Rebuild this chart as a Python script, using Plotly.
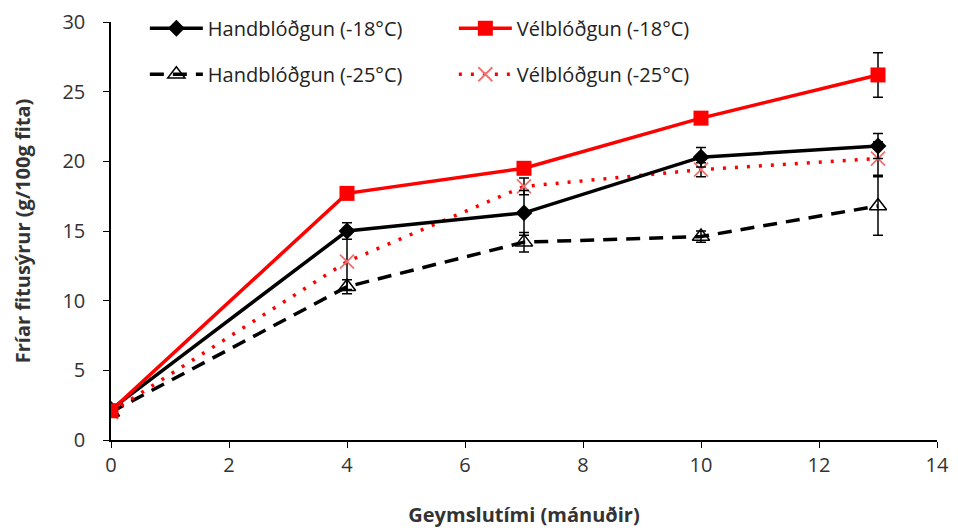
import plotly.graph_objects as go

months = [0, 4, 7, 10, 13]

hand18 = [2.2, 15.0, 16.3, 20.3, 21.1]
hand18_err = [0.3, 0.6, 1.6, 0.7, 0.9]
vel18 = [2.1, 17.7, 19.5, 23.1, 26.2]
vel18_err = [0.3, 0.4, 0.4, 0.4, 1.6]
hand25 = [2.0, 11.0, 14.2, 14.6, 16.8]
hand25_err = [0.3, 0.5, 0.7, 0.4, 2.1]
vel25 = [2.0, 12.8, 18.2, 19.4, 20.2]
vel25_err = [0.3, 2.0, 0.6, 0.5, 1.2]

names = ["Handblóðgun (-18°C)", "Vélblóðgun (-18°C)",
         "Handblóðgun (-25°C)", "Vélblóðgun (-25°C)"]

font_family = "'Open Sans', Lato, sans-serif"

def err(e):
    return dict(type="data", array=e, visible=True, color="black",
                thickness=1.5, width=5)

fig = go.Figure()
fig.add_trace(go.Scatter(
    x=months, y=hand25, name=names[2], legend="legend2",
    mode="lines+markers", error_y=err(hand25_err),
    line=dict(color="black", width=3.5, dash="14px,9px"),
    marker=dict(symbol="triangle-up-open", size=15, color="black",
                line=dict(width=1.5, color="black"))))
fig.add_trace(go.Scatter(
    x=months, y=vel25, name=names[3], legend="legend2",
    mode="lines+markers", error_y=err(vel25_err),
    line=dict(color="#ff0000", width=3.5, dash="3px,9px"),
    marker=dict(symbol="x-thin-open", size=14, color="#f07070",
                line=dict(width=1.8, color="#f07070"))))
fig.add_trace(go.Scatter(
    x=months, y=hand18, name=names[0], legend="legend",
    mode="lines+markers", error_y=err(hand18_err),
    line=dict(color="black", width=3.5),
    marker=dict(symbol="diamond", size=13, color="black")))
fig.add_trace(go.Scatter(
    x=months, y=vel18, name=names[1], legend="legend",
    mode="lines+markers", error_y=err(vel18_err),
    line=dict(color="#ff0000", width=3.5),
    marker=dict(symbol="square", size=15, color="#ff0000")))

legend_common = dict(orientation="h", bgcolor="rgba(0,0,0,0)",
                     font=dict(family=font_family, size=20, color="#222"),
                     xanchor="left", yanchor="middle",
                     itemwidth=53, entrywidth=241, traceorder="normal")

fig.update_layout(
    width=958, height=528,
    margin=dict(l=111, r=21, t=22, b=88, autoexpand=False),
    paper_bgcolor="white", plot_bgcolor="white",
    font=dict(family=font_family, size=20, color="#333"),
    legend=dict(x=0.041, y=0.985, **legend_common),
    legend2=dict(x=0.041, y=0.875, **legend_common),
    xaxis=dict(range=[0, 14], dtick=2, showgrid=False, zeroline=False,
               showline=True, linecolor="black", linewidth=1.5,
               ticks="outside", ticklen=6, tickcolor="black",
               automargin=False,
               tickfont=dict(size=20, color="#333"),
               title=dict(text="<b>Geymslutími (mánuðir)</b>",
                          font=dict(size=20, color="#333"), standoff=33)),
    yaxis=dict(range=[0, 30], dtick=5, showgrid=False, zeroline=False,
               showline=True, linecolor="black", linewidth=1.5,
               ticks="outside", ticklen=6, tickcolor="black",
               ticklabelstandoff=14, automargin=False,
               tickfont=dict(size=20, color="#333"),
               title=dict(text="<b>Fríar fitusýrur (g/100g fita)</b>",
                          font=dict(size=20, color="#333"), standoff=26)),
)

fig.write_html("out.html")
